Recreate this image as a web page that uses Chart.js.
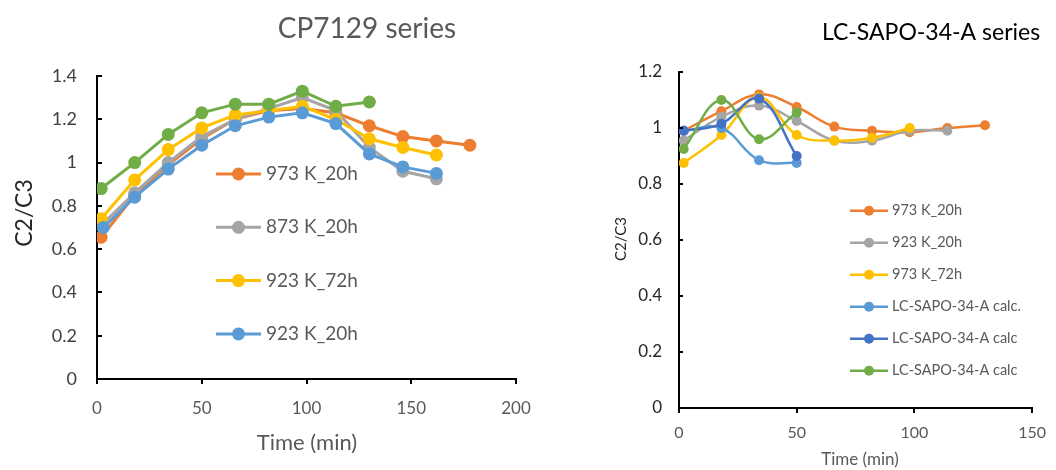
<!DOCTYPE html>
<html><head><meta charset="utf-8">
<script src="https://cdn.jsdelivr.net/npm/chart.js@4.4.1/dist/chart.umd.min.js"></script>
<style>
body{margin:0;background:#fff;width:1056px;height:470px;overflow:hidden;position:relative}
#l{position:absolute;left:0;top:0;width:560px;height:470px}
#r{position:absolute;left:560px;top:0;width:496px;height:470px}
</style></head><body>
<div id="l"><canvas id="cl"></canvas></div>
<div id="r"><canvas id="cr"></canvas></div>
<script>
// ---- Left chart: CP7129 series ----
const leftTimes = [2,18,34,50,66,82,98,114,130,146,162,178];
const left973K20h = [0.655,0.85,0.99,1.11,1.20,1.24,1.25,1.23,1.17,1.12,1.10,1.08];
const left873K20h = [0.71,0.86,1.00,1.12,1.20,1.25,1.30,1.24,1.07,0.96,0.925];
const left923K72h = [0.74,0.92,1.06,1.16,1.22,1.24,1.26,1.20,1.11,1.07,1.035];
const left923K20hTimes = [3,18,34,50,66,82,98,114,130,146,162];
const left923K20h = [0.70,0.84,0.97,1.08,1.17,1.21,1.23,1.18,1.04,0.98,0.95];
const leftExtra   = [0.88,1.00,1.13,1.23,1.27,1.27,1.33,1.26,1.28];
const leftXTicks = [0,50,100,150,200];
const leftYTicks = [0,0.2,0.4,0.6,0.8,1,1.2,1.4];

// ---- Right chart: LC-SAPO-34-A series ----
const rightTimes = [2,18,34,50,66,82,98,114,130];
const right973K20h = [0.99,1.06,1.12,1.075,1.005,0.99,0.985,1.00,1.01];
const right923K20h = [0.955,1.04,1.08,1.025,0.955,0.955,0.99,0.99];
const right973K72h = [0.875,0.975,1.11,0.975,0.955,0.965,1.00];
const rightCalcA = [0.99,1.00,0.885,0.875];
const rightCalcB = [0.99,1.015,1.105,0.90];
const rightCalcC = [0.925,1.10,0.96,1.055];
const rightXTicks = [0,50,100,150];
const rightYTicks = [0,0.2,0.4,0.6,0.8,1,1.2];

const FONT = "Lato, sans-serif";
const C = {orange:'#ED7D31', gray:'#A5A5A5', yellow:'#FFC000', blue:'#5B9BD5', dblue:'#4472C4', green:'#70AD47'};

function pts(xs, ys){ return ys.map((v,i)=>({x:xs[i], y:v})); }
const fmt = v => String(+(+v).toFixed(1));

const decor = {
  id:'decor',
  afterDraw(chart, args, o){
    const ctx = chart.ctx, ca = chart.chartArea, ys = chart.scales.y;
    ctx.save();
    ctx.strokeStyle = '#000'; ctx.lineWidth = o.tickWidth;
    ys.ticks.forEach(t=>{
      const py = Math.round(ys.getPixelForValue(t.value));
      ctx.beginPath(); ctx.moveTo(ca.left, py); ctx.lineTo(ca.left + o.tickLen, py); ctx.stroke();
    });
    o.texts.forEach(t=>{
      ctx.save(); ctx.font = t.font; ctx.fillStyle = t.color;
      ctx.textAlign = 'center'; ctx.textBaseline = 'middle';
      ctx.translate(t.x, t.y); if (t.rot) ctx.rotate(-Math.PI/2);
      ctx.fillText(t.text, 0, 0); ctx.restore();
    });
    const L = o.legend; let i = 0;
    chart.data.datasets.forEach(ds=>{
      if (ds.inLegend === false) return;
      const y = L.y + i*L.dy; i++;
      ctx.strokeStyle = ds.borderColor; ctx.lineWidth = L.lineWidth;
      ctx.beginPath(); ctx.moveTo(L.x, y); ctx.lineTo(L.x + L.len, y); ctx.stroke();
      ctx.fillStyle = ds.borderColor;
      ctx.beginPath(); ctx.arc(L.x + L.len/2, y, L.r, 0, Math.PI*2); ctx.fill();
      ctx.font = L.font; ctx.fillStyle = L.color; ctx.textAlign='left'; ctx.textBaseline='middle';
      ctx.fillText(ds.label, L.x + L.len + L.gap, y);
    });
    ctx.restore();
  }
};

function ds(label, xs, ys, color, order, extra){
  return Object.assign({label, data:pts(xs,ys), borderColor:color, backgroundColor:color,
    pointBackgroundColor:color, pointBorderColor:color, order}, extra||{});
}

new Chart(document.getElementById('cl'), {
  type:'line',
  data:{datasets:[
    ds('973 K_20h', leftTimes, left973K20h, C.orange, 5),
    ds('873 K_20h', leftTimes, left873K20h, C.gray, 4),
    ds('923 K_72h', leftTimes, left923K72h, C.yellow, 3),
    ds('923 K_20h', left923K20hTimes, left923K20h, C.blue, 2),
    ds('', leftTimes, leftExtra, C.green, 1, {inLegend:false})
  ]},
  options:{
    responsive:true, maintainAspectRatio:false, animation:false, devicePixelRatio:1,
    layout:{padding:{left:0, top:76, right:44, bottom:0}},
    elements:{line:{borderWidth:3, tension:0}, point:{radius:6.5, borderWidth:0}},
    plugins:{legend:{display:false}, tooltip:{enabled:false},
      decor:{
        tickLen:5, tickWidth:2,
        texts:[
          {text:'CP7129 series', x:367, y:29, font:`28px ${FONT}`, color:'#595959'},
          {text:'C2/C3', x:25, y:213, rot:true, font:`23px ${FONT}`, color:'#262626'},
          {text:'Time (min)', x:307, y:443, font:`22px ${FONT}`, color:'#595959'}
        ],
        legend:{x:216, y:174, dy:53.3, len:45, gap:5, r:6.5, lineWidth:3, font:`19px ${FONT}`, color:'#595959'}
      }
    },
    scales:{
      x:{type:'linear', min:0, max:200,
        afterBuildTicks:s=>{s.ticks = leftXTicks.map(v=>({value:v}));},
        afterFit:s=>{s.height = 91;},
        ticks:{font:{family:FONT, size:17}, color:'#595959', padding:14, callback:fmt},
        grid:{drawOnChartArea:false, drawTicks:true, tickLength:5, color:'#000', lineWidth:2},
        border:{color:'#000', width:2}},
      y:{min:0, max:1.4,
        afterBuildTicks:s=>{s.ticks = leftYTicks.map(v=>({value:v}));},
        afterFit:s=>{s.width = 97;},
        ticks:{font:{family:FONT, size:18}, color:'#404040', padding:20, callback:fmt},
        grid:{drawOnChartArea:false, drawTicks:false},
        border:{color:'#000', width:2}}
    }
  },
  plugins:[decor]
});

new Chart(document.getElementById('cr'), {
  type:'line',
  data:{datasets:[
    ds('973 K_20h', rightTimes, right973K20h, C.orange, 6),
    ds('923 K_20h', rightTimes, right923K20h, C.gray, 5),
    ds('973 K_72h', rightTimes, right973K72h, C.yellow, 4),
    ds('LC-SAPO-34-A calc.', rightTimes, rightCalcA, C.blue, 3),
    ds('LC-SAPO-34-A calc', rightTimes, rightCalcB, C.dblue, 2),
    ds('LC-SAPO-34-A calc', rightTimes, rightCalcC, C.green, 1)
  ]},
  options:{
    responsive:true, maintainAspectRatio:false, animation:false, devicePixelRatio:1,
    layout:{padding:{left:0, top:72, right:14, bottom:0}},
    elements:{line:{borderWidth:2.5, tension:0.4}, point:{radius:5, borderWidth:0}},
    plugins:{legend:{display:false}, tooltip:{enabled:false},
      decor:{
        tickLen:4, tickWidth:2,
        texts:[
          {text:'LC-SAPO-34-A series', x:371, y:33, font:`23px ${FONT}`, color:'#000'},
          {text:'C2/C3', x:61, y:239, rot:true, font:`15px ${FONT}`, color:'#262626'},
          {text:'Time (min)', x:300, y:460, font:`17px ${FONT}`, color:'#595959'}
        ],
        legend:{x:290, y:210.7, dy:32, len:38, gap:4, r:5, lineWidth:2.5, font:`14.5px ${FONT}`, color:'#595959'}
      }
    },
    scales:{
      x:{type:'linear', min:0, max:150,
        afterBuildTicks:s=>{s.ticks = rightXTicks.map(v=>({value:v}));},
        afterFit:s=>{s.height = 62;},
        ticks:{font:{family:FONT, size:16}, color:'#595959', padding:10, callback:fmt},
        grid:{drawOnChartArea:false, drawTicks:true, tickLength:5, color:'#000', lineWidth:2},
        border:{color:'#000', width:2}},
      y:{min:0, max:1.2,
        afterBuildTicks:s=>{s.ticks = rightYTicks.map(v=>({value:v}));},
        afterFit:s=>{s.width = 119;},
        ticks:{font:{family:FONT, size:17}, color:'#262626', padding:17, callback:fmt},
        grid:{drawOnChartArea:false, drawTicks:false},
        border:{color:'#000', width:2}}
    }
  },
  plugins:[decor]
});
</script>
</body></html>
